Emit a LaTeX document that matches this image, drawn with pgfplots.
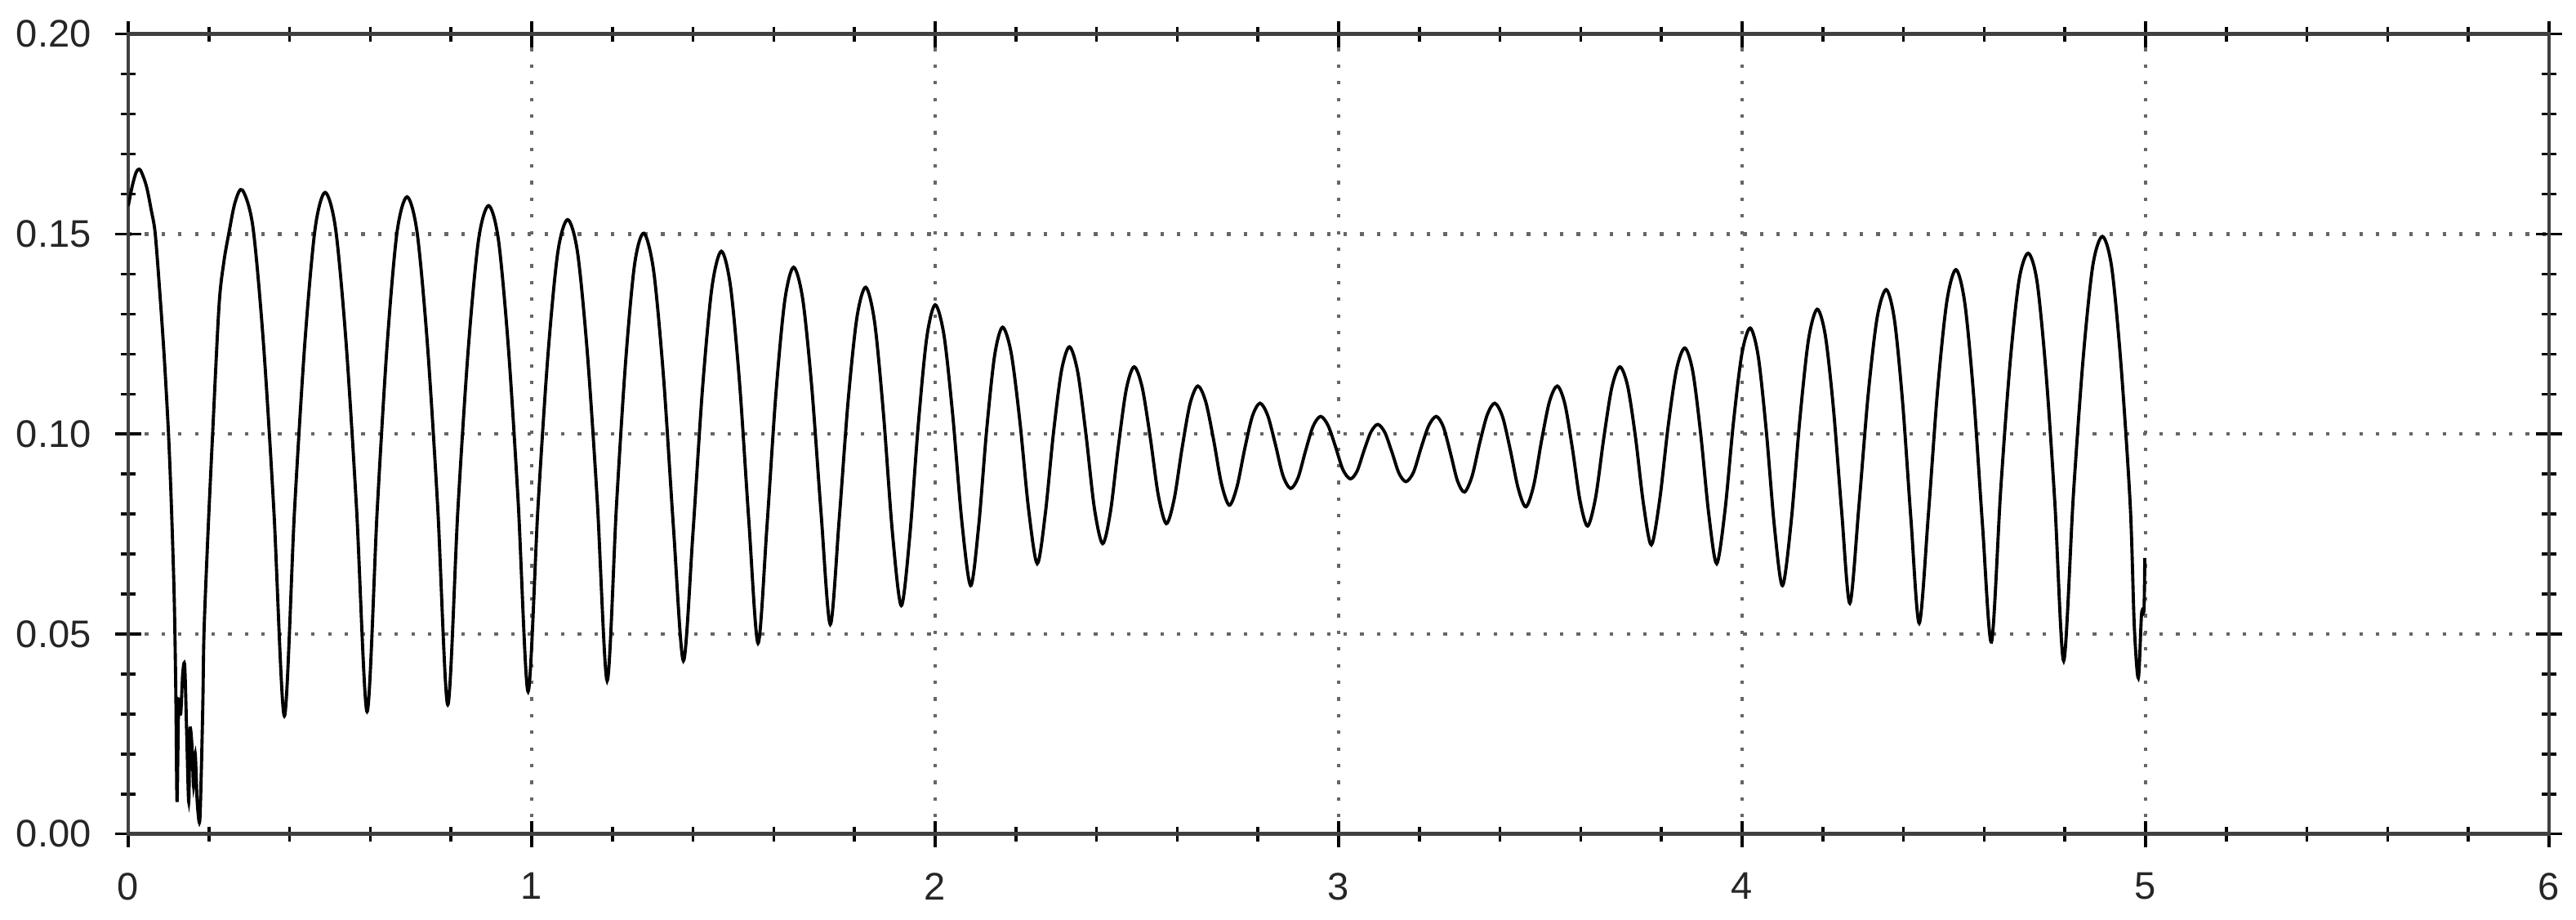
\documentclass[border=0pt]{standalone}
\usepackage{pgfplots}
\pgfplotsset{compat=1.18}
\usepackage{fontspec}
\setmainfont{Liberation Sans}

\begin{document}
\begin{tikzpicture}
\begin{axis}[
  scale only axis,
  width=14.82cm, height=4.895cm,
  xmin=0, xmax=6, ymin=0, ymax=0.2,
  xtick={0,1,2,3,4,5,6},
  ytick={0,0.05,0.10,0.15,0.20},
  minor x tick num=4, minor y tick num=4,
  tick align=center,
  major tick length=0.16cm, minor tick length=0.09cm,
  axis line style={black!75, line width=0.7pt},
  every tick/.style={black, line width=0.5pt},
  grid=major,
  major grid style={black!60, line width=0.6pt, dash pattern=on 0.6pt off 2.3pt},
  /pgf/number format/assume math mode=true,
  tick label style={font=\fontsize{6.7}{8}\selectfont, text=black!85},
  yticklabel style={/pgf/number format/fixed, /pgf/number format/fixed zerofill,
    /pgf/number format/precision=2, inner sep=0pt, xshift=-0.14cm},
  xticklabel style={inner sep=0pt, yshift=-0.15cm},
]
\addplot[black, line width=0.55pt, smooth, tension=0.5] coordinates {
(0.000,0.157) (0.010,0.162) (0.020,0.1655) (0.030,0.166) (0.045,0.162) (0.057,0.156)
(0.067,0.150) (0.080,0.133) (0.090,0.118) (0.100,0.0997) (0.107,0.082) (0.114,0.059)
(0.118,0.035) (0.121,0.008) (0.125,0.033) (0.130,0.030) (0.135,0.040) (0.140,0.042)
(0.145,0.025) (0.150,0.008) (0.153,0.026) (0.158,0.022) (0.162,0.012) (0.166,0.020)
(0.171,0.008) (0.177,0.003) (0.181,0.015) (0.185,0.033) (0.188,0.051) (0.198,0.076)
(0.209,0.0997) (0.225,0.132) (0.237,0.143) (0.249,0.150) (0.265,0.158) (0.283,0.161)
(0.309,0.1518) (0.335,0.1229) (0.361,0.0808) (0.387,0.0295)
(0.412,0.0806) (0.4375,0.1224) (0.463,0.1512) (0.488,0.1604)
(0.514,0.1513) (0.540,0.1228) (0.566,0.0812) (0.592,0.0306)
(0.617,0.0808) (0.6415,0.1220) (0.666,0.1503) (0.691,0.1593)
(0.716,0.1504) (0.7415,0.1225) (0.767,0.0818) (0.792,0.0323)
(0.817,0.0810) (0.8425,0.1209) (0.868,0.1484) (0.893,0.1571)
(0.9175,0.1486) (0.942,0.1219) (0.9665,0.0830) (0.991,0.0356)
(1.0155,0.0816) (1.040,0.1194) (1.0645,0.1453) (1.089,0.1536)
(1.1135,0.1455) (1.138,0.1202) (1.1625,0.0833) (1.187,0.0383)
(1.210,0.0819) (1.2325,0.1177) (1.255,0.1424) (1.278,0.1502)
(1.3025,0.1406) (1.327,0.1139) (1.3515,0.0764) (1.376,0.0433)
(1.3995,0.0750) (1.423,0.1109) (1.4465,0.1365) (1.470,0.1457)
(1.4928,0.1369) (1.5155,0.1124) (1.5383,0.0781) (1.561,0.0477)
(1.583,0.0768) (1.605,0.1097) (1.627,0.1332) (1.649,0.1417)
(1.6718,0.1337) (1.6945,0.1113) (1.7173,0.0801) (1.740,0.0524)
(1.762,0.0785) (1.784,0.1080) (1.806,0.1291) (1.828,0.1367)
(1.850,0.1279) (1.872,0.1049) (1.894,0.0754) (1.916,0.0571)
(1.937,0.0744) (1.958,0.1022) (1.979,0.1240) (2.000,0.1323)
(2.022,0.1246) (2.044,0.1042) (2.066,0.0782) (2.088,0.0621)
(2.1078,0.0770) (2.1275,0.1009) (2.1473,0.1196) (2.167,0.1267)
(2.1885,0.1202) (2.210,0.1031) (2.2315,0.0812) (2.253,0.0676)
(2.273,0.0801) (2.293,0.1001) (2.313,0.1158) (2.333,0.1218)
(2.3535,0.1154) (2.374,0.0997) (2.3945,0.0815) (2.415,0.0726)
(2.4345,0.0806) (2.454,0.0969) (2.4735,0.1111) (2.493,0.1168)
(2.513,0.1117) (2.533,0.0992) (2.553,0.0847) (2.573,0.0776)
(2.5925,0.0838) (2.612,0.0965) (2.6315,0.1075) (2.651,0.1120)
(2.6705,0.1081) (2.690,0.0986) (2.7095,0.0876) (2.729,0.0822)
(2.748,0.0868) (2.767,0.0962) (2.786,0.1044) (2.805,0.1077)
(2.824,0.1047) (2.843,0.0975) (2.862,0.0896) (2.881,0.0864)
(2.8995,0.0891) (2.918,0.0958) (2.9365,0.1019) (2.955,0.1044)
(2.9735,0.1022) (2.992,0.0969) (3.0105,0.0911) (3.029,0.0888)
(3.046,0.0908) (3.063,0.0959) (3.080,0.1005) (3.097,0.1024)
(3.1145,0.1004) (3.132,0.0955) (3.1495,0.0902) (3.167,0.0881)
(3.1858,0.0905) (3.2045,0.0966) (3.2233,0.1021) (3.242,0.1044)
(3.2595,0.1018) (3.277,0.0953) (3.2945,0.0883) (3.312,0.0855)
(3.3308,0.0895) (3.3495,0.0977) (3.3683,0.1048) (3.387,0.1077)
(3.4063,0.1043) (3.4255,0.0960) (3.4448,0.0865) (3.464,0.0818)
(3.4835,0.0872) (3.503,0.0984) (3.5225,0.1081) (3.542,0.1120)
(3.5608,0.1075) (3.5795,0.0963) (3.5983,0.0833) (3.617,0.0770)
(3.637,0.0842) (3.657,0.0989) (3.677,0.1116) (3.697,0.1168)
(3.7165,0.1119) (3.736,0.0990) (3.7555,0.0825) (3.775,0.0723)
(3.7958,0.0836) (3.8165,0.1018) (3.8373,0.1161) (3.858,0.1215)
(3.8778,0.1156) (3.8975,0.0999) (3.9173,0.0800) (3.937,0.0676)
(3.9578,0.0811) (3.9785,0.1029) (3.9993,0.1200) (4.020,0.1265)
(4.040,0.1194) (4.060,0.1007) (4.080,0.0769) (4.100,0.0621)
(4.1215,0.0780) (4.143,0.1036) (4.1645,0.1236) (4.186,0.1312)
(4.2063,0.1246) (4.2265,0.1062) (4.2468,0.0805) (4.267,0.0577)
(4.2895,0.0820) (4.312,0.1094) (4.3345,0.1290) (4.357,0.1361)
(4.3775,0.1286) (4.398,0.1077) (4.4185,0.0786) (4.439,0.0527)
(4.4618,0.0801) (4.4845,0.1110) (4.5073,0.1331) (4.530,0.1411)
(4.552,0.1327) (4.574,0.1094) (4.596,0.0769) (4.618,0.0480)
(4.6408,0.0859) (4.6635,0.1170) (4.6863,0.1384) (4.709,0.1452)
(4.731,0.1381) (4.753,0.1156) (4.775,0.0830) (4.797,0.0433)
(4.821,0.0847) (4.845,0.1186) (4.869,0.1420) (4.893,0.1494)
(4.916,0.1417) (4.939,0.1174) (4.962,0.0821) (4.972,0.052) (4.982,0.039)
(4.990,0.055) (4.996,0.056) (4.998,0.069)
};
\end{axis}
\pgfresetboundingbox
\path ([shift={(-0.785cm,-0.525cm)}]current axis.south west)
  rectangle ([shift={(0.165cm,0.2085cm)}]current axis.north east);
\end{tikzpicture}
\end{document}
